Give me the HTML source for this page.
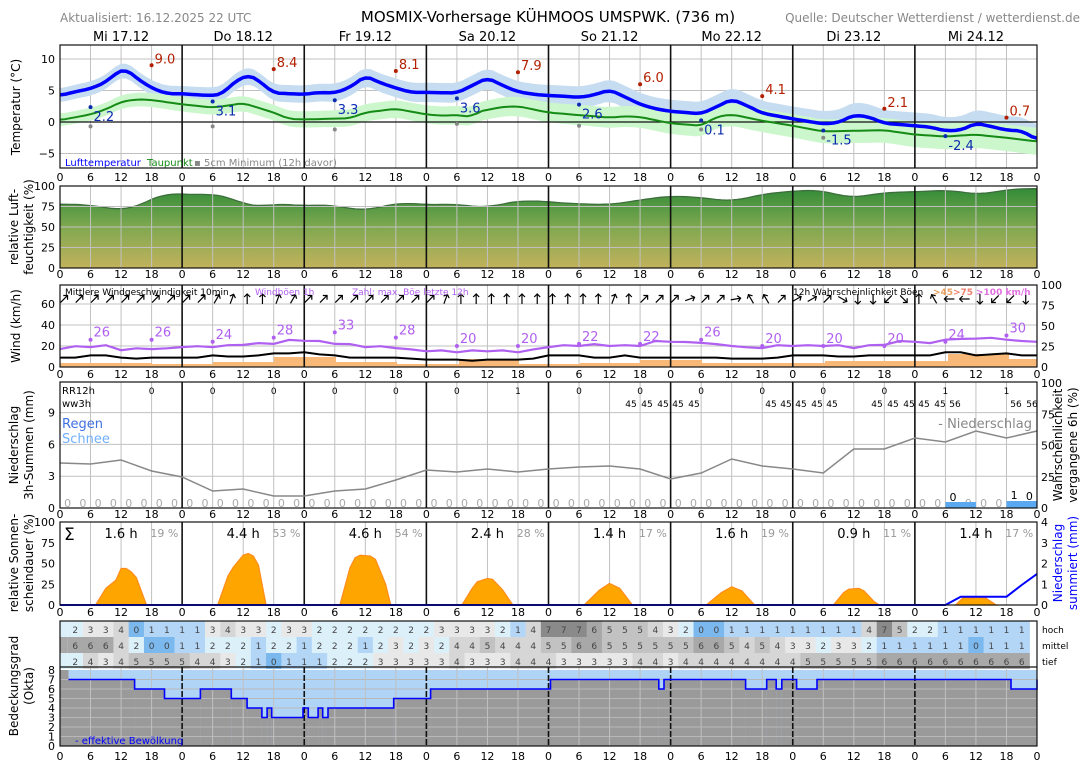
<!DOCTYPE html>
<html><head><meta charset="utf-8"><style>
html,body{margin:0;padding:0;background:#fff}
svg{display:block;font-family:"DejaVu Sans","Liberation Sans",sans-serif}
</style></head><body>
<svg id="s" width="1088" height="766" viewBox="0 0 1088 766" xmlns="http://www.w3.org/2000/svg">
<defs>
<linearGradient id="hg" gradientUnits="userSpaceOnUse" x1="0" y1="186" x2="0" y2="268">
<stop offset="0" stop-color="#2e8a36"/><stop offset="0.5" stop-color="#7fa850"/><stop offset="1" stop-color="#c2b25c"/>
</linearGradient>
</defs>
<g id="g"></g>
</svg>
<script>
const NS="http://www.w3.org/2000/svg";const G=document.getElementById('g');
function el(t,a,txt){const e=document.createElementNS(NS,t);for(const k in a)e.setAttribute(k,a[k]);if(txt!==undefined)e.textContent=txt;G.appendChild(e);return e;}
const X=h=>60+h*977/192;
function interp(pts,h){for(let i=0;i<pts.length-1;i++){const[a,va]=pts[i],[b,vb]=pts[i+1];if(h>=a&&h<=b)return va+(vb-va)*(h-a)/(b-a);}return pts[pts.length-1][1];}
function smooth(S,w){w=w||3;const raw=[];for(let h=0;h<=192;h++)raw.push(interp(S,h));const out=[];for(let h=0;h<=192;h++){let s=0,n=0;for(let k=-w;k<=w;k++){const j=h+k;if(j>=0&&j<=192){s+=raw[j];n++;}}out.push(s/n);}return out;}
function txt(x,y,s,o){o=o||{};return el('text',Object.assign({x:x,y:y,'font-size':o.fs||11,fill:o.fill||'#000','text-anchor':o.a||'middle'},o.extra||{}),s);}
txt(60,22,'Aktualisiert: 16.12.2025 22 UTC',{a:'start',fs:12,fill:'#888'});
txt(548,22,'MOSMIX-Vorhersage KÜHMOOS UMSPWK. (736 m)',{fs:15});
txt(1080,22,'Quelle: Deutscher Wetterdienst / wetterdienst.de',{a:'end',fs:12,fill:'#888'});
const days=['Mi 17.12','Do 18.12','Fr 19.12','Sa 20.12','So 21.12','Mo 22.12','Di 23.12','Mi 24.12'];
days.forEach((d,i)=>txt(X(i*24+12),41,d,{fs:13}));
function vgrid(t,b){for(let h=6;h<192;h+=6){if(h%24)el('line',{x1:X(h),x2:X(h),y1:t,y2:b,stroke:'#c0c0c0','stroke-width':1});}}
function daylines(t,b,dash){for(let d=1;d<8;d++)el('line',Object.assign({x1:X(d*24),x2:X(d*24),y1:t,y2:b,stroke:'#111','stroke-width':1.6},dash?{'stroke-dasharray':'6,2'}:{}));}
function hgrid(ys,l){ys.forEach(y=>el('line',{x1:60,x2:1037,y1:y,y2:y,stroke:l||'#c0c0c0','stroke-width':1}));}
function xt(y){for(let h=0;h<=192;h+=6)txt(X(h),y+4,String(h%24),{fs:11});}
function yt(vals,f,x,anchor){vals.forEach(v=>txt(x||55,f(v)+4,String(v).replace('-','−'),{fs:11,a:anchor||'end'}));}
function frame(t,b){el('rect',{x:60,y:t,width:977,height:b-t,fill:'none',stroke:'#111','stroke-width':1.2});}
function rot(x,y,lines,fill){lines.forEach((s,i)=>el('text',{x:0,y:0,'font-size':12,fill:fill||'#000','text-anchor':'middle',transform:`translate(${x+i*15},${y}) rotate(-90)`},s));}
function poly(pts,o){el('polyline',Object.assign({points:pts.map(p=>p[0].toFixed(1)+','+p[1].toFixed(1)).join(' '),fill:'none'},o));}
// Temperature
const TY=v=>122-v*6.3;
const T=[[0,4.2],[3,4.8],[6,5.3],[9,6.3],[11,7.8],[13,8.4],[15,7],[18,5.4],[21,4.5],[24,4.5],[27,4.3],[30,4.2],[32,4.5],[34,6.2],[37,7.5],[39,6.6],[42,4.6],[48,4.4],[51,4.7],[54,4.6],[57,5.5],[60,7.3],[63,6.2],[66,5.4],[69,4.7],[72,4.7],[78,4.6],[81,5.8],[84,7],[87,5.8],[90,4.8],[93,4.4],[96,4.2],[99,4.1],[102,3.9],[105,4.3],[108,5.1],[111,4],[114,2.8],[117,2.1],[120,1.7],[126,1.3],[129,2.4],[132,3.6],[135,2.6],[138,1.4],[144,0.5],[150,-0.3],[153,-0.1],[156,1.1],[159,0.8],[162,-0.2],[168,-0.6],[171,-0.8],[174,-1.4],[177,-1.3],[180,-0.2],[183,-0.7],[186,-1.3],[189,-1.4],[192,-2.8]];
const D=[[0,0.3],[6,1.2],[9,2],[12,3.2],[15,3.6],[18,3.5],[24,2.8],[30,2.3],[33,2.6],[36,3],[42,1.5],[45,0.5],[48,0.4],[57,0.6],[60,1.5],[66,2.1],[72,1.2],[75,1],[78,1.1],[81,0.8],[82,1.6],[87,2.4],[90,2.5],[96,1.5],[102,1.1],[108,0.7],[111,0.9],[114,0.8],[120,-0.2],[126,-0.6],[129,0.8],[132,1.2],[138,0.2],[144,-0.6],[150,-1.5],[156,-1.4],[162,-1.3],[168,-2],[174,-2.3],[180,-2],[186,-2.5],[192,-3.1]];
const Ts=smooth(T,1),Ds=smooth(D,1);
vgrid(45,168);hgrid([TY(10),TY(5),TY(-5)]);
const band=(S,w,c)=>{const up=[],dn=[];for(let h=0;h<=192;h++){const v=S[h];const ww=w+h*0.006;up.push([X(h),TY(v+ww)]);dn.unshift([X(h),TY(v-ww)]);}el('polygon',{points:up.concat(dn).map(p=>p.join(',')).join(' '),fill:c});};
band(Ts,1.1,'#c6dcf0');band(Ds,1.0,'#ccf7cc');
el('line',{x1:60,x2:1037,y1:TY(0),y2:TY(0),stroke:'#111','stroke-width':1.2});
daylines(45,168);
const line=(S,c,w)=>{const p=[];for(let h=0;h<=192;h++)p.push([X(h),TY(S[h])]);poly(p,{stroke:c,'stroke-width':w,'stroke-linejoin':'round'});};
line(Ds,'#158a15',2);line(Ts,'#0000ff',3.5);
const mx=['9.0','8.4','8.1','7.9','6.0','4.1','2.1','0.7'],mn=['2.2','3.1','3.3','3.6','2.6','0.1','-1.5','-2.4'],gm=[-0.7,-0.7,-1.2,-0.3,-0.6,-1.2,-2.5,null];
for(let d=0;d<8;d++){const x18=X(d*24+18),x6=X(d*24+6);const v=parseFloat(mx[d]);el('circle',{cx:x18,cy:TY(v),r:2,fill:'#b22000'});txt(x18+3,TY(v)-2,mx[d],{a:'start',fs:13,fill:'#b22000'});
const m=parseFloat(mn[d]);el('circle',{cx:x6,cy:TY(m)-1,r:2,fill:'#0a2bb0'});txt(x6+3,TY(m)+13,mn[d],{a:'start',fs:13,fill:'#0a2bb0'});
if(gm[d]!==null)el('circle',{cx:x6,cy:TY(gm[d]),r:2,fill:'#888'});}
txt(65,166,'Lufttemperatur',{a:'start',fs:10,fill:'#0000ff'});txt(147,166,'Taupunkt',{a:'start',fs:10,fill:'#158a15'});txt(194,166,'▪ 5cm Minimum (12h davor)',{a:'start',fs:10,fill:'#888'});
frame(45,168);yt([10,5,0,-5],TY);xt(177);rot(20,107,['Temperatur (°C)']);
// Humidity
const HY=v=>268-v*0.82;
const H=[[0,78],[6,77],[11,71],[14,72],[17,80],[19,88],[21,92],[24,89],[26,90],[30,90],[34,86],[36,77],[39,74],[42,79],[45,77],[48,76],[54,77],[57,72],[60,70],[64,76],[67,80],[72,77],[78,78],[84,73],[87,79],[91,82],[94,82],[99,79],[108,77],[114,83],[120,88],[126,86],[132,81],[138,90],[144,94],[150,95],[155,85],[162,92],[168,93],[175,95],[181,89],[186,96],[192,97]];
const Hs=smooth(H,3);const hp=Hs.map((v,h)=>[X(h),HY(v)]);
el('polygon',{points:'60,268 '+hp.map(p=>p.join(',')).join(' ')+' 1037,268',fill:'url(#hg)'});
poly(hp,{stroke:'#3d6e3d','stroke-width':1.3});
vgrid(186,268);hgrid([HY(25),HY(50),HY(75)]);daylines(186,268);frame(186,268);yt([100,75,50,25,0],HY);xt(274);rot(18,227,['relative Luft-','feuchtigkeit (%)']);
// Wind
const WY=v=>367-v*1.05;
vgrid(285,367);hgrid([WY(20),WY(40),WY(60)]);
[[60,152,4],[152,213,3],[213,274,5],[274,336,10],[336,397,5],[397,459,3],[459,519,8],[519,580,3],[580,640,4],[640,702,7],[702,825,4],[825,948,6],[948,1009,13],[1009,1037,8]].forEach(b=>el('rect',{x:b[0],y:367-b[2],width:b[1]-b[0],height:b[2],fill:'#f8b878'}));
daylines(285,367);
const gust=[17,19,19,20,16,17,17,17,19,19,19,20,21,22,22,25,25,24,22,21,19,19,18,16,15,15,14,15,15,15,14,16,19,20,20,21,20,20,20,24,24,23,23,21,20,18,18,20,20,20,20,20,18,20,21,24,24,22,26,26,27,27,26,24,24];
const mean=[9,9,11,11,9,8,9,9,9,9,11,10,10,11,13,13,14,12,11,9,9,9,9,8,7,7,7,6,7,7,7,8,11,11,11,9,9,11,9,9,9,9,9,9,8,8,8,9,11,11,11,10,10,11,11,11,11,11,14,14,11,12,13,11,11];
const wp=(a,j)=>{const p=[];for(let i=0;i<a.length;i++){p.push([X(i*3),WY(a[i]+(j&&i%2?0.8:0))]);}return p;};
poly(wp(mean),{stroke:'#000','stroke-width':2});poly(wp(gust,1),{stroke:'#b060f0','stroke-width':2.2});
const gl=[26,26,24,28,33,28,20,20,22,22,26,20,20,20,24,30];
gl.forEach((v,i)=>{const x=X(6+i*12);el('circle',{cx:x,cy:WY(v),r:2,fill:'#b060f0'});txt(x+3,WY(v)-3,String(v),{a:'start',fs:13,fill:'#b060f0'});});
const ang=[45,45,45,45,45,45,45,45, 45,45,30,20,0,0,20,30, 45,45,45,45,45,45,45,45, 45,20,0,0,0,0,0,0, 0,0,0,0,20,0,45,45, 45,70,45,45,80,-30,-30,45, 60,60,45,120,180,180,225,135, 0,-30,-90,-90,180,225,225,180];
ang.forEach((a,i)=>{const x=X(i*3)+4,y=299;el('g',{transform:`translate(${x},${y}) rotate(${a})`}).innerHTML='<line x1="0" y1="5" x2="0" y2="-5" stroke="#000" stroke-width="1.2"/><polyline points="-3,-2 0,-5 3,-2" fill="none" stroke="#000" stroke-width="1.2"/>';});
txt(65,295,'Mittlere Windgeschwindigkeit 10min',{a:'start',fs:9});txt(255,295,'Windböen 1h',{a:'start',fs:9,fill:'#b060f0'});txt(352,295,'Zahl: max. Böe letzte 12h',{a:'start',fs:9,fill:'#b060f0'});
txt(793,295,'12h Wahrscheinlichkeit Böen',{a:'start',fs:9});txt(933,295,'>45',{a:'start',fs:9,fill:'#e8a060',extra:{'font-weight':'bold'}});txt(953,295,'>75',{a:'start',fs:9,fill:'#f08070',extra:{'font-weight':'bold'}});txt(976,295,'>100 km/h',{a:'start',fs:9,fill:'#e070e0',extra:{'font-weight':'bold'}});
frame(285,367);yt([60,40,20,0],WY);[100,75,50,25,0].forEach(v=>txt(1041,367-v*0.82+4,String(v),{a:'start',fs:11}));xt(374);rot(20,326,['Wind (km/h)']);
// Precip
const PY=v=>508-v*10.6;
vgrid(382,508);hgrid([PY(3),PY(6),PY(9)]);daylines(382,508);
const pl=[463,464,460,471,477,491,489,496,496,491,489,480,470,472,469,472,469,467,466,469,479,473,459,466,469,473,449,449,438,442,431,438,431];
poly(pl.map((y,i)=>[X(i*6),y]),{stroke:'#888','stroke-width':1.5});
for(let i=0;i<64;i++){if(i==58||i==62||i==63)continue;txt(X(i*3+1.5),507,'0',{fs:11,fill:'#aaa'});}
el('rect',{x:X(174),y:502,width:X(180)-X(174),height:6,fill:'#5aa8f0'});el('rect',{x:X(186),y:501,width:X(192)-X(186),height:7,fill:'#5aa8f0'});
txt(X(175.5),501,'0',{fs:11});txt(X(187.5),499,'1',{fs:11});txt(X(190.5),500,'0',{fs:11});
['0','0','0','0','0','0','1','0','0','0','0','0','0','1','1'].forEach((s,i)=>txt(X(18+i*12),394,s,{fs:9}));
[631,647,663,678,694,771,786,801,817,832,877,893,909,924,940].forEach(x=>txt(x,407,'45',{fs:9}));
[955,1016,1032].forEach(x=>txt(x,407,'56',{fs:9}));
txt(62,394,'RR12h',{a:'start',fs:10});txt(62,407,'ww3h',{a:'start',fs:10});
txt(62,428,'Regen',{a:'start',fs:13,fill:'#4070e0'});txt(62,443,'Schnee',{a:'start',fs:13,fill:'#70b0ff'});
txt(1032,428,'- Niederschlag',{a:'end',fs:13,fill:'#888'});
frame(382,508);yt([9,6,3,0],PY);[100,75,50,25,0].forEach(v=>txt(1041,508-v*1.25+4,String(v),{a:'start',fs:11}));xt(514);
rot(18,445,['Niederschlag','3h-Summen (mm)']);rot(1062,445,['Wahrscheinlichkeit','vergangene 6h (%)']);
// Sun
const SY=v=>605-v*0.83;
vgrid(522,605);daylines(522,605);
const sun=[[[7,0],[9,20],[11,30],[12,44],[13,44],[14,40],[15,33],[17,0]],[[7,0],[9,35],[10,45],[12,60],[13,62],[14,59],[15,48],[16.5,0]],[[7,0],[9,45],[10,57],[11,60],[13,59],[14,55],[16,25],[17,0]],[[7,0],[9,20],[10,28],[12,32],[13,31],[15,18],[17,0]],[[7,0],[10,18],[12,26],[14,20],[16.5,0]],[[7,0],[10,15],[12,22],[14,17],[16.5,0]],[[8,0],[10,15],[11,19],[13,20],[14,17],[16,4],[17,0]],[[8,0],[9.5,9],[11,8],[12.5,10],[14,8],[16,0]]];
sun.forEach((s,d)=>{el('polygon',{points:s.map(p=>X(d*24+p[0])+','+SY(p[1])).join(' '),fill:'#ffa500',stroke:'#ff8c1a','stroke-width':1.2});});
['1.6 h','4.4 h','4.6 h','2.4 h','1.4 h','1.6 h','0.9 h','1.4 h'].forEach((s,d)=>txt(X(d*24+12),538,s,{fs:13}));
['19 %','53 %','54 %','28 %','17 %','19 %','11 %','17 %'].forEach((s,d)=>txt(X(d*24+20.5),537,s,{fs:11,fill:'#999'}));
txt(64,540,'Σ',{a:'start',fs:17});
poly([[60,605],[X(174),605],[X(177),596.7],[X(186),596.7],[X(189),585],[X(192),573.9]],{stroke:'#0000ff','stroke-width':2});
frame(522,605);yt([100,75,50,25,0],SY);[4,3,2,1,0].forEach(v=>txt(1041,605-v*20.75+4,String(v),{a:'start',fs:11}));xt(612);
rot(18,563,['relative Sonnen-','scheindauer (%)']);rot(1062,563,['Niederschlag','summiert (mm)'],'#0000ff');
// Cloud table
const hoch=[2,3,3,4,0,1,1,1,1,3,4,3,3,2,3,3,2,2,2,2,2,2,2,2,3,3,3,3,2,1,4,7,7,7,6,5,5,5,4,3,2,0,0,1,1,1,1,1,1,1,1,1,4,7,5,2,2,1,1,1,1,1,1];
const mit=[6,6,6,4,2,0,0,1,1,2,2,2,1,2,2,1,2,2,2,1,2,3,2,3,2,4,4,5,4,4,4,5,5,6,6,5,5,5,5,5,5,6,6,5,4,5,4,3,3,2,3,3,2,1,1,1,1,1,1,0,1,1,1];
const tief=[2,4,3,4,5,5,5,5,4,4,3,2,1,0,1,1,1,2,2,2,3,3,3,3,3,4,3,3,3,4,4,4,3,3,3,3,3,4,4,3,4,4,4,4,4,4,4,4,5,5,5,5,5,6,6,6,6,6,6,6,6,6,6];
const cc=['#7ab8ee','#b3d6f7','#dcf0fa','#e8e8e8','#d6d6d6','#c2c2c2','#a8a8a8','#8a8a8a','#777'];
[[hoch,621,'hoch'],[mit,637,'mittel'],[tief,653,'tief']].forEach(([a,y,n])=>{el('rect',{x:60,y:y,width:X(1.5)-60,height:16,fill:cc[a[0]]});a.forEach((v,i)=>{const x0=X(i*3+1.5),x1=X(i*3+4.5);el('rect',{x:x0,y:y,width:Math.min(x1,1037)-x0+0.5,height:16,fill:cc[v]});txt(X(i*3+3),y+12,String(v),{fs:9,fill:'#444'});});txt(1042,y+12,n,{a:'start',fs:9});});
// Okta
const OY=v=>746-v*9.5;
el('rect',{x:60,y:OY(8),width:977,height:OY(0)-OY(8),fill:'#b0d4f6'});
const steps=[[60,8],[68.5,7],[134.6,6],[164.5,5],[200.4,6],[231.3,5],[247.1,4],[261.9,3],[267.1,4],[271.7,3],[303,4],[308.3,3],[318.1,4],[322.7,3],[328,4],[393.7,5],[430.6,6],[550.5,7],[658.8,6],[664,7],[745.6,6],[766.7,7],[776.2,6],[781.8,7],[796.6,6],[817,7],[1011,6],[1037,7]];
for(let i=0;i<steps.length-1;i++){const [x0,v]=steps[i],x1=steps[i+1][0];el('rect',{x:x0,y:OY(v),width:x1-x0,height:OY(0)-OY(v),fill:'#9a9a9a'});}
hgrid([1,2,3,4,5,6,7].map(OY),'#b8b8b8');vgrid(667,746);daylines(667,746,true);
const lp=[];for(let i=1;i<steps.length;i++){const[x0,v]=steps[i];const nx=i<steps.length-1?steps[i+1][0]:1037;if(i>1)lp.push([x0,OY(steps[i-1][1])]);lp.push([x0,OY(v)]);lp.push([nx,OY(v)]);}
poly(lp,{stroke:'#0000ff','stroke-width':1.6});
txt(75,744,'- effektive Bewölkung',{a:'start',fs:10,fill:'#0000ff'});
el('line',{x1:60,x2:1037,y1:667,y2:667,stroke:'#111','stroke-width':1.2});
frame(621,746);[8,7,6,5,4,3,2,1,0].forEach(v=>txt(55,OY(v)+4,String(v),{fs:11,a:'end'}));xt(756);rot(18,686,['Bedeckungsgrad','(Okta)']);
</script>
</body></html>
